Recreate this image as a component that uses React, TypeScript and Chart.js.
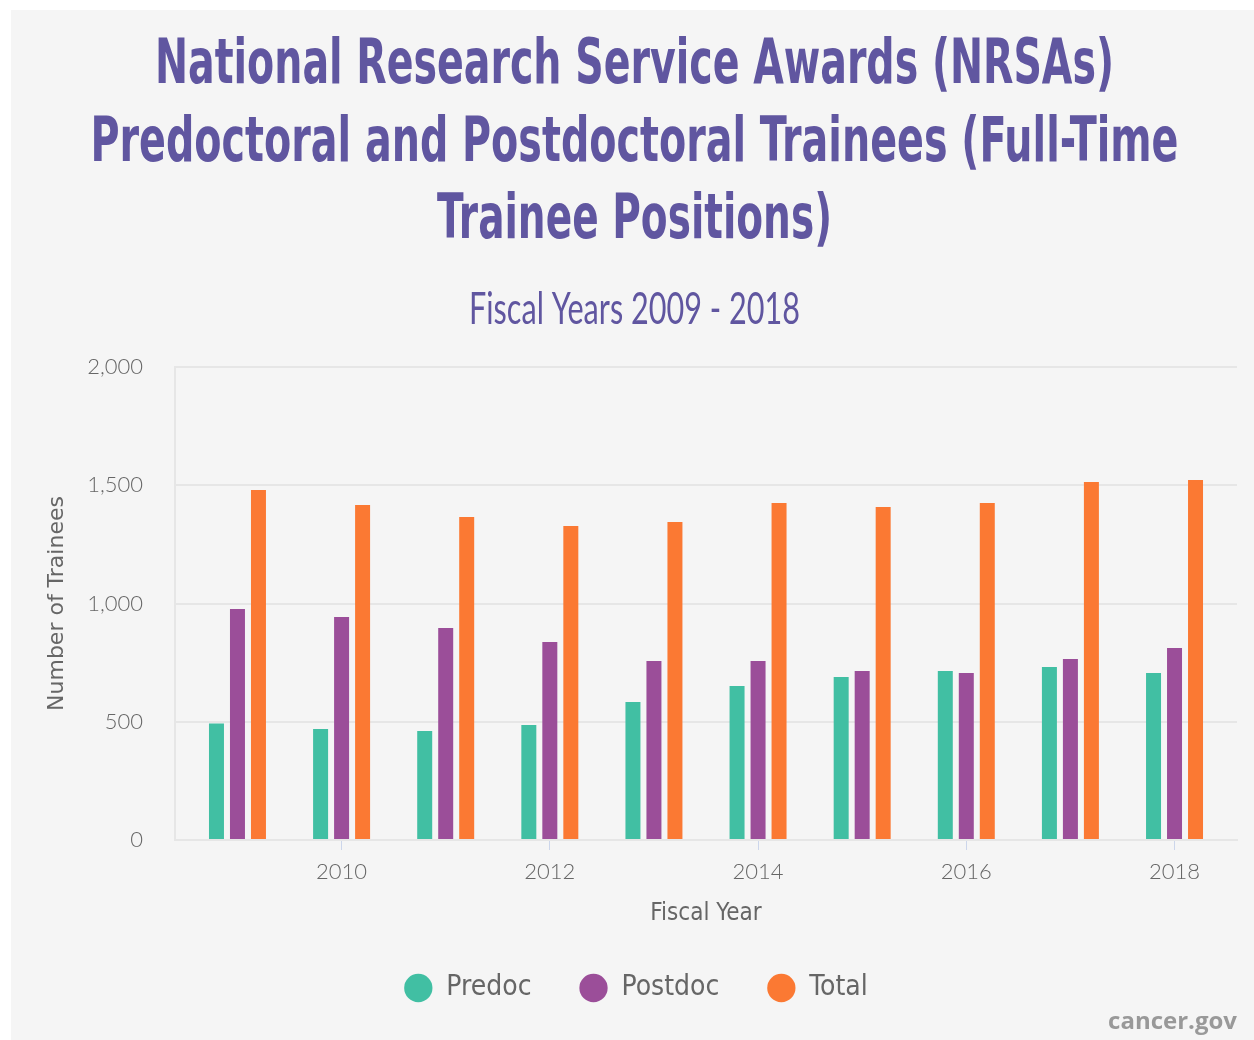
import React, { useEffect, useRef } from "react";
import { Chart, registerables } from "chart.js";

Chart.register(...registerables);

const years = [2009, 2010, 2011, 2012, 2013, 2014, 2015, 2016, 2017, 2018];
const predoc = [493, 469, 461, 486, 583, 651, 689, 715, 731, 706];
const postdoc = [977, 943, 896, 837, 757, 757, 715, 706, 765, 812];
const total = [1480, 1416, 1366, 1328, 1345, 1425, 1408, 1425, 1514, 1522];
const xTickYears = [2010, 2012, 2014, 2016, 2018];
const seriesNames = ["Predoc", "Postdoc", "Total"];
const titleLines = [
  "National Research Service Awards (NRSAs)",
  "Predoctoral and Postdoctoral Trainees (Full-Time",
  "Trainee Positions)",
];
const subtitleText = "Fiscal Years 2009 - 2018";

const COND = "'DejaVu Sans Condensed', 'DejaVu Sans', sans-serif";
const TICKFONT = "Lato, 'Open Sans', sans-serif";
const PURPLE_T = "#6056a0";
const colors = ["#41bfa3", "#9b4e99", "#fb7933"];

// layout constants for the heading (canvas coords)
const HEAD_CX = 623.5;
const titleY = [57, 135, 212];
const titleW = [959, 1088, 395];
const subY = 300;
const subW = 331;

const headingPlugin = {
  id: "heading",
  afterDraw(chart: any) {
    const ctx = chart.ctx as CanvasRenderingContext2D;
    ctx.save();
    ctx.fillStyle = PURPLE_T;
    ctx.textAlign = "center";
    ctx.textBaseline = "middle";
    ctx.font = "bold 63px 'DejaVu Sans Condensed', 'DejaVu Sans', sans-serif";
    titleLines.forEach((line, i) => {
      ctx.fillText(line, HEAD_CX, titleY[i], titleW[i]);
    });
    ctx.font = "normal 44px Lato, 'DejaVu Sans Condensed', sans-serif";
    ctx.fillText(subtitleText, HEAD_CX, subY, subW);
    ctx.restore();
  },
};

export default function App() {
  const ref = useRef<HTMLCanvasElement | null>(null);
  useEffect(() => {
    document.body.style.margin = "0";
    const canvas = ref.current!;
    const seriesData = [predoc, postdoc, total];
    const chart = new Chart(canvas, {
      type: "bar",
      data: {
        datasets: seriesData.map((arr, k) => ({
          label: seriesNames[k],
          data: years.map((yr, i) => ({ x: yr, y: arr[i] })),
          backgroundColor: colors[k],
          borderWidth: 0,
          categoryPercentage: 0.605,
          barPercentage: 0.714,
        })),
      },
      plugins: [headingPlugin],
      options: {
        responsive: false,
        animation: false,
        devicePixelRatio: 1,
        layout: { padding: { left: 24, right: 17, top: 357, bottom: 28 } },
        plugins: {
          tooltip: { enabled: false },
          title: { display: false },
          legend: {
            position: "bottom",
            labels: {
              usePointStyle: true,
              pointStyle: "circle",
              boxHeight: 20,
              color: "#666666",
              font: { family: COND, size: 28, weight: "normal" },
              padding: 48,
            },
          },
        },
        scales: {
          x: {
            type: "linear",
            min: 2008.4,
            max: 2018.6,
            offset: false,
            afterBuildTicks: (scale: any) => {
              scale.ticks = xTickYears.map((v) => ({ value: v }));
            },
            afterFit: (scale: any) => {
              scale.height = 86;
            },
            ticks: {
              color: "#666666",
              font: { family: TICKFONT, size: 22, weight: "300" },
              padding: 9,
              callback: (v: any) => String(v),
              maxRotation: 0,
              autoSkip: false,
            },
            grid: {
              offset: false,
              drawOnChartArea: false,
              drawTicks: true,
              tickLength: 10,
              color: "#ccd6eb",
              lineWidth: 1,
            },
            border: { display: true, color: "#e6e6e6", width: 2 },
            title: {
              display: true,
              text: "Fiscal Year",
              color: "#666666",
              font: { family: COND, size: 24, lineHeight: 1.0 },
              padding: { top: 0, bottom: 0 },
            },
          },
          y: {
            min: 0,
            max: 2000,
            afterFit: (scale: any) => {
              scale.width = 140;
            },
            ticks: {
              stepSize: 500,
              color: "#666666",
              font: { family: TICKFONT, size: 22, weight: "300" },
              padding: 32,
            },
            grid: { color: "#e6e6e6", lineWidth: 2, drawTicks: false },
            border: { display: true, color: "#e6e6e6", width: 2 },
            title: {
              display: true,
              text: "Number of Trainees",
              color: "#666666",
              font: { family: "'DejaVu Sans', sans-serif", size: 22, weight: "normal", lineHeight: 1.2 },
              padding: { top: 9, bottom: 0 },
            },
          },
        },
      },
    });
    return () => chart.destroy();
  }, []);

  return (
    <div
      style={{
        position: "fixed",
        left: 11,
        top: 10,
        width: 1243,
        height: 1030,
        background: "#f5f5f5",
      }}
    >
      <canvas ref={ref} width={1243} height={1030} style={{ display: "block" }} />
      <div
        style={{
          position: "absolute",
          right: 17,
          bottom: 4,
          fontFamily: "'Open Sans', 'DejaVu Sans', sans-serif",
          fontWeight: 700,
          fontSize: 24,
          color: "#999999",
        }}
      >
        cancer.gov
      </div>
    </div>
  );
}
